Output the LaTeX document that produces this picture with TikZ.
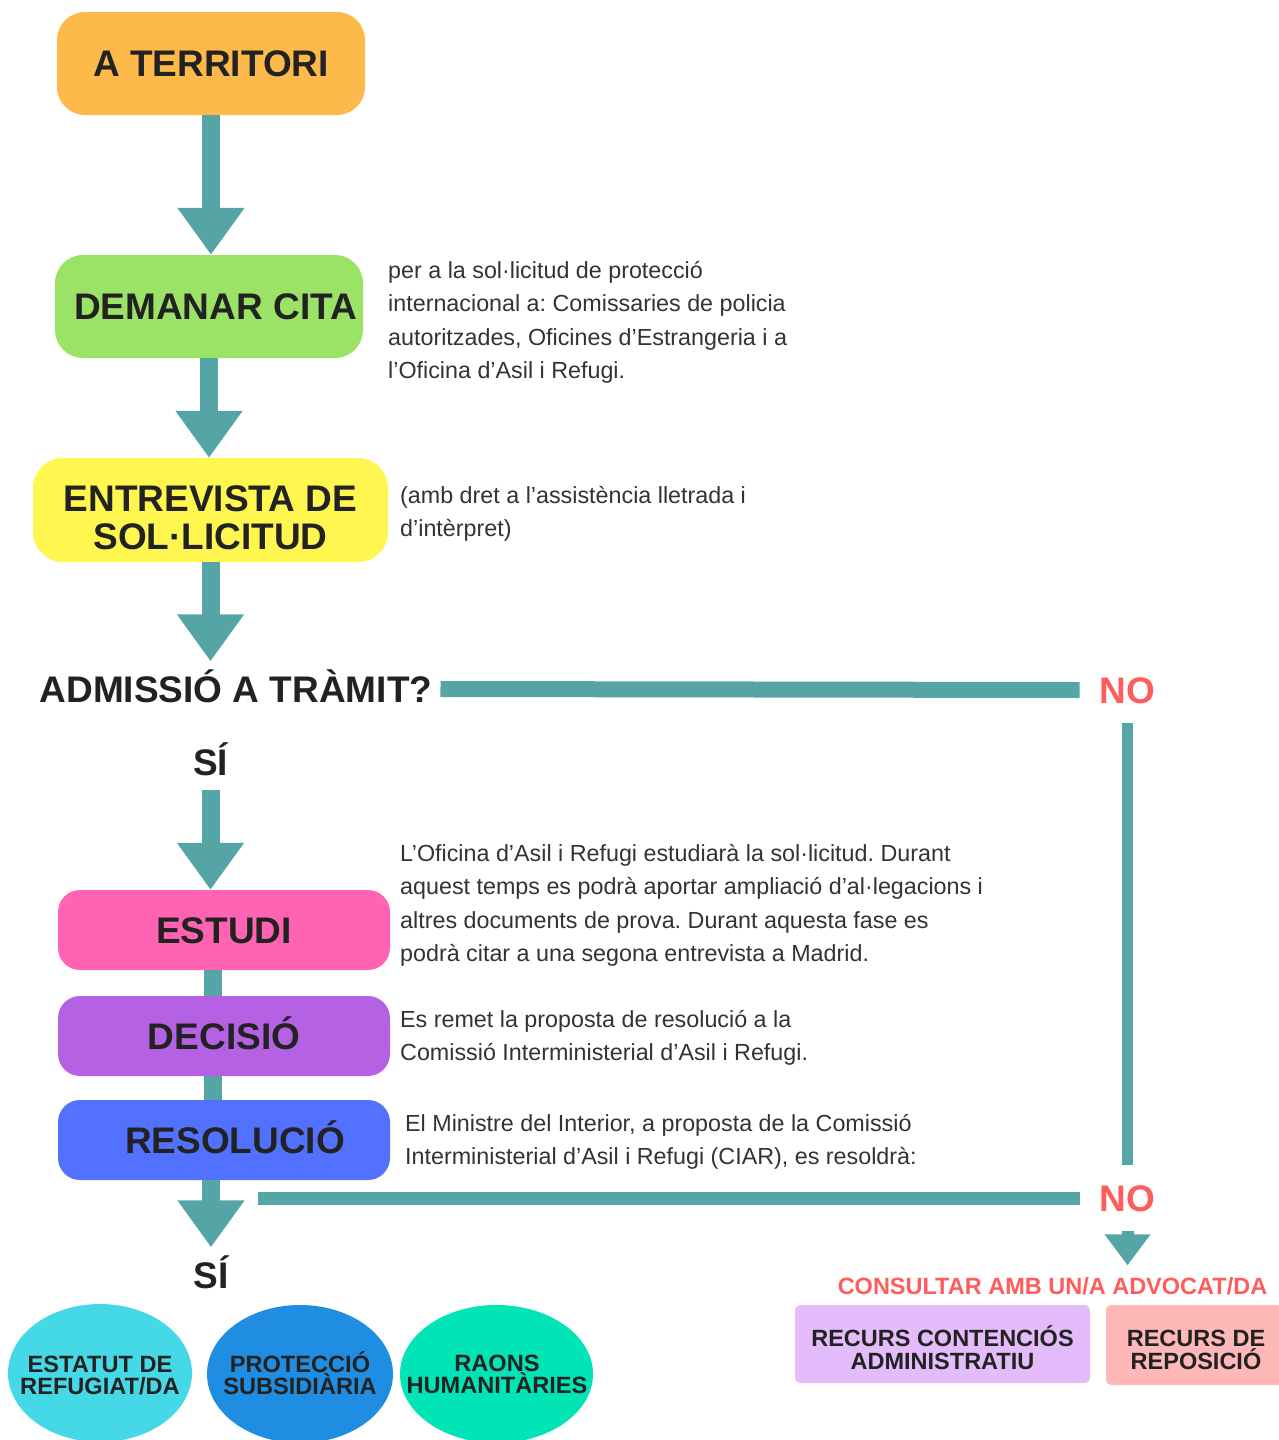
\documentclass[tikz,border=0pt]{standalone}
\usepackage{fontspec}
\setmainfont{Liberation Sans}
\usepackage{tikz}
\usetikzlibrary{arrows.meta}

\definecolor{flowteal}{HTML}{56A5A6}
\definecolor{ink}{HTML}{222222}
\definecolor{bodyink}{HTML}{333333}
\definecolor{alertred}{HTML}{FF5C5C}
\definecolor{terrorange}{HTML}{FDBA4A}
\definecolor{citagreen}{HTML}{9AE366}
\definecolor{entryellow}{HTML}{FFF64F}
\definecolor{estpink}{HTML}{FF63B1}
\definecolor{decpurple}{HTML}{B462E3}
\definecolor{resblue}{HTML}{5271FF}
\definecolor{refcyan}{HTML}{45D9E8}
\definecolor{subblue}{HTML}{1F8EE2}
\definecolor{humgreen}{HTML}{00E4B6}
\definecolor{contlilac}{HTML}{E4BBFB}
\definecolor{reporose}{HTML}{FFB8B8}

\begin{document}
\frenchspacing
\begin{tikzpicture}[x = 1pt, y = -1pt,
  stepbox/.style = {rounded corners = 28pt, inner sep = 0pt, align = center, text = ink,
    font = \bfseries\fontsize{37}{38}\selectfont},
  stagebox/.style = {stepbox, rounded corners = 22pt, minimum width = 332pt, minimum height = 80pt,
    text height = 27pt, text depth = 0pt},
  bigtext/.style = {inner xsep = 8pt, inner ysep = 14pt, text height = 27pt, text depth = 0pt,
    font = \bfseries\fontsize{37}{38}\selectfont, text = ink},
  notext/.style = {bigtext, inner xsep = 20pt, inner ysep = 19pt, text = alertred},
  note/.style = {anchor = north west, inner sep = 0pt, align = left, text = bodyink,
    font = \fontsize{23.3}{33.5}\selectfont},
  outcome/.style = {inner sep = 0pt, align = center, text = ink, font = \bfseries\fontsize{23.6}{22}\selectfont},
  appeal/.style = {rounded corners = 5pt, inner sep = 0pt, align = center, text = ink,
    font = \bfseries\fontsize{23.5}{23}\selectfont},
  bigarrow/.style = {draw = flowteal, line width = 18pt, -{Triangle[width = 64pt, length = 47pt]}},
  link/.style = {draw = flowteal, line width = 18pt}
]
\clip (0,0) rectangle (1279,1440);
\fill[white] (0,0) rectangle (1279,1440);

% main steps
\node[stepbox, fill = terrorange, minimum width = 308pt, minimum height = 103pt] (atr) at (211,63.5) {A TERRITORI};
\node[stepbox, fill = citagreen, minimum width = 308pt, minimum height = 103pt] (cita) at (209,306.5) {\hspace*{13pt}DEMANAR CITA};
\node[stepbox, fill = entryellow, rounded corners = 30pt, minimum width = 355pt, minimum height = 104pt] (entr) at (210.5,510) {\rule{0pt}{40.5pt}ENTREVISTA DE\\SOL·LICITUD};
\node[bigtext] (adm) at (236,689) {ADMISSIÓ A TRÀMIT?};
\node[bigtext] (si1) at (210.5,762) {SÍ};
\node[notext] (no1) at (1127.5,690) {NO};

\node[stagebox, fill = estpink] (est) at (224,930) {ESTUDI};
\node[stagebox, fill = decpurple] (dec) at (224,1036) {DECISIÓ};
\node[stagebox, fill = resblue] (res) at (224,1140) {\hspace*{22pt}RESOLUCIÓ};
\node[bigtext] (si2) at (211,1275) {SÍ};
\node[notext] (no2) at (1127.5,1198) {NO};
\coordinate (bar2) at (258,1198);

% notes
\node[note] (n1) at (388,261) {per a la sol·licitud de protecció\\internacional a: Comissaries de policia\\autoritzades, Oficines d’Estrangeria i a\\l’Oficina d’Asil i Refugi.};
\node[note] (n2) at (400,486) {(amb dret a l’assistència lletrada i\\d’intèrpret)};
\node[note] (n3) at (400,844) {L’Oficina d’Asil i Refugi estudiarà la sol·licitud. Durant\\aquest temps es podrà aportar ampliació d’al·legacions i\\altres documents de prova. Durant aquesta fase es\\podrà citar a una segona entrevista a Madrid.};
\node[note] (n4) at (400,1010) {Es remet la proposta de resolució a la\\Comissió Interministerial d’Asil i Refugi.};
\node[note] (n5) at (405,1114) {El Ministre del Interior, a proposta de la Comissió\\Interministerial d’Asil i Refugi (CIAR), es resoldrà:};

% outcomes
\fill[refcyan] (100,1373) ellipse [x radius = 92, y radius = 69];
\fill[subblue] (300,1374) ellipse [x radius = 93, y radius = 69];
\fill[humgreen] (496.5,1374) ellipse [x radius = 96.5, y radius = 69];
\node[outcome] (ref) at (100,1375) {ESTATUT DE\\REFUGIAT/DA};
\node[outcome] (sub) at (300,1373) {PROTECCIÓ\\SUBSIDIÀRIA};
\node[outcome] (hum) at (497,1374) {RAONS\\HUMANITÀRIES};

\node[appeal, text = alertred, inner ysep = 12pt, text height = 17pt, text depth = 0pt] (adv) at (1052.5,1286) {CONSULTAR AMB UN/A ADVOCAT/DA};
\node[appeal, fill = contlilac, minimum width = 295pt, minimum height = 78pt] (cont) at (942.5,1344) {\rule{0pt}{27.5pt}RECURS CONTENCIÓS\\ADMINISTRATIU};
\node[appeal, fill = reporose, minimum width = 180pt, minimum height = 80pt] (repo) at (1196,1345) {\rule{0pt}{26.5pt}RECURS DE\\REPOSICIÓ};

% connectors
\draw[bigarrow] (atr.south) -- (atr.south |- cita.north);
\draw[bigarrow] (cita.south) -- (cita.south |- entr.north);
\draw[bigarrow] (entr.south) -- (entr.south |- adm.north);
\draw[bigarrow] (si1.south) -- (si1.south |- est.north);
\draw[link] ([xshift = -11pt]est.south) -- ([xshift = -11pt]dec.north);
\draw[link] ([xshift = -11pt]dec.south) -- ([xshift = -11pt]res.north);
\draw[bigarrow] (si2.north |- res.south) -- (si2.north);
\draw[draw = flowteal, line width = 16pt] (adm.east) -- (no1.west);
\draw[draw = flowteal, line width = 11pt] (no1.south) -- (no2.north);
\draw[draw = flowteal, line width = 13pt] (bar2) -- (no2.west);
\draw[draw = flowteal, line width = 12pt, -{Triangle[width = 44pt, length = 31pt]}] (no2.south) -- (no2.south |- adv.north);
\end{tikzpicture}
\end{document}
